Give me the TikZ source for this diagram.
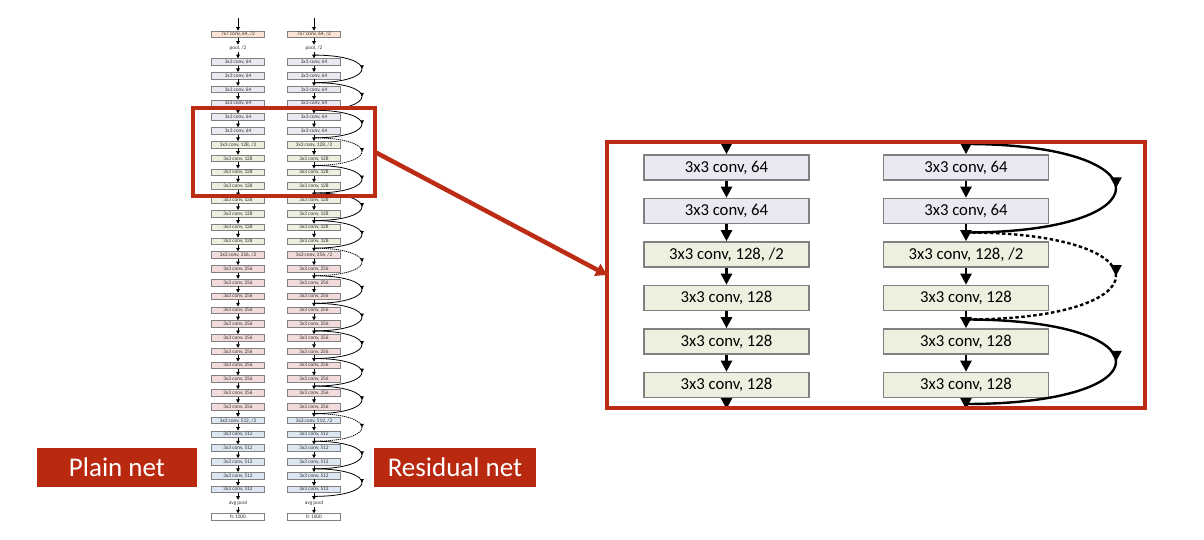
\documentclass[tikz,border=0pt]{standalone}
\usepackage{fontspec}
\setmainfont{Carlito}
\usetikzlibrary{arrows.meta,decorations.markings}
\definecolor{frameRed}{RGB}{188,44,20}
\definecolor{labelRed}{RGB}{184,41,16}
\definecolor{cA}{RGB}{251,228,214}
\definecolor{cB}{RGB}{235,232,241}
\definecolor{cC}{RGB}{235,241,222}
\definecolor{cD}{RGB}{242,220,219}
\definecolor{cE}{RGB}{221,231,243}
\definecolor{cF}{RGB}{255,255,255}
\definecolor{boxGray}{RGB}{128,128,128}
\tikzset{
  sbox/.style={draw=boxGray, line width=0.8pt, minimum width=53pt, minimum height=6.6pt,
    inner sep=0pt, font=\fontsize{5.3}{6}\selectfont, text=black!80},
  stext/.style={minimum width=53pt, minimum height=6.6pt, inner sep=0pt,
    font=\fontsize{5.3}{6}\selectfont, text=black!80},
  sarr/.style={-{Triangle[length=3.6pt,width=3.6pt]}, line width=0.8pt},
  sarc/.style={line width=0.8pt, postaction={decorate},
    decoration={markings, mark=at position 0.5 with {\arrow{Triangle[length=3.6pt,width=3.6pt]}}}},
  sdash/.style={dash pattern=on 1.2pt off 0.8pt},
  bbox/.style={draw=boxGray, line width=1.6pt, minimum width=165pt, minimum height=25pt,
    inner sep=0pt, font=\fontsize{16.7}{20}\selectfont, text=black},
  barr/.style={-{Triangle[length=11pt,width=11pt]}, line width=2.4pt},
  barc/.style={line width=2.4pt, postaction={decorate},
    decoration={markings, mark=at position 0.5 with {\arrow{Triangle[length=11pt,width=11pt]}}}},
  bdash/.style={dash pattern=on 3.5pt off 2.5pt},
  framebox/.style={draw=frameRed, line width=3.5pt, inner sep=0pt, outer sep=0pt},
  labelbox/.style={fill=labelRed, text=white, inner sep=0pt, minimum height=39pt,
    font=\fontsize{27}{32}\selectfont},
}
\begin{document}
\begin{tikzpicture}[x=1pt,y=-1pt]
\useasboundingbox (0,0) rectangle (1204,540);
% ---------------- small columns ----------------
\foreach \j/\lab/\st/\col in {
  0/{7x7 conv, 64, /2}/sbox/cA, 1/{pool, /2}/stext/cF,
  2/{3x3 conv, 64}/sbox/cB, 3/{3x3 conv, 64}/sbox/cB, 4/{3x3 conv, 64}/sbox/cB,
  5/{3x3 conv, 64}/sbox/cB, 6/{3x3 conv, 64}/sbox/cB, 7/{3x3 conv, 64}/sbox/cB,
  8/{3x3 conv, 128, /2}/sbox/cC, 9/{3x3 conv, 128}/sbox/cC, 10/{3x3 conv, 128}/sbox/cC,
  11/{3x3 conv, 128}/sbox/cC, 12/{3x3 conv, 128}/sbox/cC, 13/{3x3 conv, 128}/sbox/cC,
  14/{3x3 conv, 128}/sbox/cC, 15/{3x3 conv, 128}/sbox/cC,
  16/{3x3 conv, 256, /2}/sbox/cD, 17/{3x3 conv, 256}/sbox/cD, 18/{3x3 conv, 256}/sbox/cD,
  19/{3x3 conv, 256}/sbox/cD, 20/{3x3 conv, 256}/sbox/cD, 21/{3x3 conv, 256}/sbox/cD,
  22/{3x3 conv, 256}/sbox/cD, 23/{3x3 conv, 256}/sbox/cD, 24/{3x3 conv, 256}/sbox/cD,
  25/{3x3 conv, 256}/sbox/cD, 26/{3x3 conv, 256}/sbox/cD, 27/{3x3 conv, 256}/sbox/cD,
  28/{3x3 conv, 512, /2}/sbox/cE, 29/{3x3 conv, 512}/sbox/cE, 30/{3x3 conv, 512}/sbox/cE,
  31/{3x3 conv, 512}/sbox/cE, 32/{3x3 conv, 512}/sbox/cE, 33/{3x3 conv, 512}/sbox/cE,
  34/{avg pool}/stext/cF, 35/{fc 1000}/sbox/cF}{
  \node[\st, fill=\col] (L\j) at (238,{34.42+13.79*\j}) {\lab};
  \node[\st, fill=\col] (R\j) at (314,{34.42+13.79*\j}) {\lab};
}
\coordinate (Ltop) at (238,18);
\coordinate (Rtop) at (314,18);
\draw[sarr] (Ltop) -- (L0.north);
\draw[sarr] (Rtop) -- (R0.north);
\foreach \j [evaluate=\j as \k using int(\j+1)] in {0,...,34}{
  \draw[sarr] (L\j.south) -- (L\k.north);
  \draw[sarr] (R\j.south) -- (R\k.north);
}
% junction coordinates (above row j)
\foreach \j in {2,4,...,34}{
  \coordinate (J\j) at (314,{34.42+13.79*\j-6.9});
}
\foreach \a/\b in {2/4,4/6,6/8,10/12,12/14,14/16,18/20,20/22,22/24,24/26,26/28,30/32,32/34}{
  \draw[sarc] (J\a) .. controls +(64,0) and +(64,0) .. (J\b);
}
\foreach \a/\b in {8/10,16/18,28/30}{
  \draw[sarc, sdash] (J\a) .. controls +(64,0) and +(64,0) .. (J\b);
}
% ---------------- small frame ----------------
\node[framebox, minimum width=182pt, minimum height=88pt] (sframe) at (284,152) {};
% ---------------- inset ----------------
\foreach \i/\lab/\col in {1/{3x3 conv, 64}/cB, 2/{3x3 conv, 64}/cB, 3/{3x3 conv, 128, /2}/cC,
  4/{3x3 conv, 128}/cC, 5/{3x3 conv, 128}/cC, 6/{3x3 conv, 128}/cC}{
  \node[bbox, fill=\col] (A\i) at (726.5,{167.5+43.5*(\i-1)}) {\lab};
  \node[bbox, fill=\col] (B\i) at (966,{167.5+43.5*(\i-1)}) {\lab};
}
\coordinate (Atop) at (726.5,141);
\coordinate (Btop) at (966,141);
\coordinate (Abot) at (726.5,409);
\coordinate (Bbot) at (966,409);
\coordinate (Bj0) at (966,144);
\coordinate (Bj1) at (966,232.5);
\coordinate (Bj2) at (966,319.5);
\coordinate (Bj3) at (966,404);
\draw[barr] (Atop) -- (A1.north);
\draw[barr] (Btop) -- (B1.north);
\foreach \i [evaluate=\i as \k using int(\i+1)] in {1,...,5}{
  \draw[barr] (A\i.south) -- (A\k.north);
  \draw[barr] (B\i.south) -- (B\k.north);
}
\draw[barr] (A6.south) -- (Abot);
\draw[barr] (B6.south) -- (Bbot);
\draw[barc] (Bj0) .. controls +(200,0) and +(200,0) .. (Bj1);
\draw[barc, bdash] (Bj1) .. controls +(200,0) and +(200,0) .. (Bj2);
\draw[barc] (Bj2) .. controls +(200,0) and +(200,0) .. (Bj3);
\node[framebox, minimum width=538pt, minimum height=266pt] (inset) at (876,275) {};
% ---------------- zoom arrow ----------------
\draw[frameRed, line width=4.5pt, -{Triangle[length=11pt,width=13pt]}] (sframe.east) -- (inset.west);
% ---------------- labels ----------------
\node[labelbox, minimum width=160pt] (plain) at (117,467.5) {Plain net};
\node[labelbox, minimum width=162pt] (resid) at (455,467.5) {Residual net};
\end{tikzpicture}
\end{document}
